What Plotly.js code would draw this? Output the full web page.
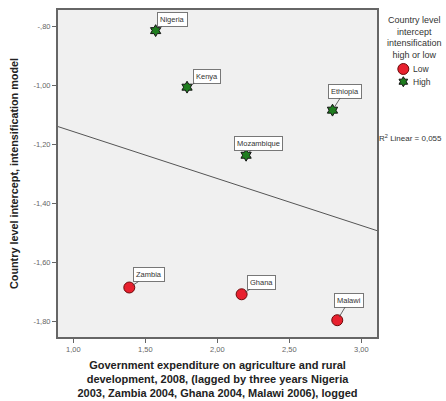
<!DOCTYPE html>
<html>
<head>
<meta charset="utf-8">
<script src="https://cdn.plot.ly/plotly-3.0.1.min.js"></script>
<style>
  html, body { margin: 0; padding: 0; background: #fff; }
  #chart { width: 446px; height: 401px; }
</style>
</head>
<body>
<div id="chart"></div>
<script>
// Country-level data
const countries = ["Nigeria", "Kenya", "Ethiopia", "Mozambique", "Zambia", "Ghana", "Malawi"];
const expenditure = [1.572, 1.790, 2.800, 2.200, 1.389, 2.169, 2.833];
const intercept = [-0.814, -1.006, -1.084, -1.237, -1.686, -1.709, -1.797];
const group = ["High", "High", "High", "High", "Low", "Low", "Low"];

// Label offsets (pixels) for the country call-outs
const labelDx = [17, 20, 12, 12, 20, 20, 12];
const labelDy = [-11, -11, -19, -12, -13, -12, -20];

// Axis ticks
const xTickVals = [1.0, 1.5, 2.0, 2.5, 3.0];
const xTickText = ["1,00", "1,50", "2,00", "2,50", "3,00"];
const yTickVals = [-0.8, -1.0, -1.2, -1.4, -1.6, -1.8];
const yTickText = ["-,80", "-1,00", "-1,20", "-1,40", "-1,60", "-1,80"];
const xRange = [0.894, 3.109];
const yRange = [-1.854, -0.744];
const r2Label = "R<sup>2</sup> Linear = 0,055";
const legendTitle = "Country level<br>intercept<br>intensification<br>high or low";
const legendNames = ["Low", "High"];

// Least-squares fit across the whole x range
function linearFit(xs, ys) {
  const n = xs.length;
  const mx = xs.reduce((a, b) => a + b, 0) / n;
  const my = ys.reduce((a, b) => a + b, 0) / n;
  let sxy = 0, sxx = 0;
  for (let i = 0; i < n; i++) {
    sxy += (xs[i] - mx) * (ys[i] - my);
    sxx += (xs[i] - mx) * (xs[i] - mx);
  }
  const slope = sxy / sxx;
  return { slope, intercept: my - slope * mx };
}
const fit = linearFit(expenditure, intercept);

function subset(g) {
  const xs = [], ys = [], names = [];
  for (let i = 0; i < countries.length; i++) {
    if (group[i] === g) { xs.push(expenditure[i]); ys.push(intercept[i]); names.push(countries[i]); }
  }
  return { xs, ys, names };
}
const low = subset("Low");
const high = subset("High");

const font = "Liberation Sans, Arial, sans-serif";
const lowColor = "#e8202e";
const lowEdge = "#6b0a0a";
const highColor = "#1f7d1f";
const highEdge = "#111111";

const traces = [
  {
    x: xRange,
    y: xRange.map(v => fit.intercept + fit.slope * v),
    mode: "lines",
    line: { color: "#555555", width: 1 },
    showlegend: false,
    hoverinfo: "skip"
  },
  {
    x: low.xs, y: low.ys, text: low.names, name: "Low",
    mode: "markers", type: "scatter", showlegend: false,
    marker: { symbol: "circle", size: 11, color: lowColor, line: { color: lowEdge, width: 1 } }
  },
  {
    x: high.xs, y: high.ys, text: high.names, name: "High",
    mode: "markers", type: "scatter", showlegend: false,
    marker: { symbol: "hexagram", size: 9, color: highColor, line: { color: highEdge, width: 1 } }
  }
];

const annotations = countries.map((c, i) => ({
  x: expenditure[i], y: intercept[i], xref: "x", yref: "y",
  text: c, showarrow: true, arrowhead: 0, arrowwidth: 0.8, arrowcolor: "#444",
  ax: labelDx[i], ay: labelDy[i], standoff: 4,
  font: { family: font, size: 7.5, color: "#333" },
  bgcolor: "#ffffff", bordercolor: "#777777", borderwidth: 1, borderpad: 2
}));

// Regression note
annotations.push({
  xref: "paper", yref: "paper", x: 1.0, y: 0.6095, xanchor: "left", yanchor: "middle",
  text: r2Label, showarrow: false,
  font: { family: font, size: 8, color: "#333" }
});

// Key: title and names
annotations.push({
  xref: "paper", yref: "paper", x: 1.119, y: 0.9168, xanchor: "center", yanchor: "middle",
  text: legendTitle, showarrow: false, align: "center",
  font: { family: font, size: 9, color: "#333" }
});
const keyX = 1.0825;
const keyY = [0.8196, 0.7807];
legendNames.forEach((name, i) => {
  annotations.push({
    xref: "paper", yref: "paper", x: 1.1066, y: keyY[i], xanchor: "left", yanchor: "middle",
    text: name, showarrow: false,
    font: { family: font, size: 8.5, color: "#333" }
  });
});

// Key symbols (pixel-sized so they stay the same as the plotted markers)
function starPath(points, rOut, rIn) {
  let d = "";
  for (let k = 0; k < points * 2; k++) {
    const r = k % 2 === 0 ? rOut : rIn;
    const a = Math.PI / 2 + k * Math.PI / points;
    d += (k === 0 ? "M" : "L") + (r * Math.cos(a)).toFixed(2) + "," + (r * Math.sin(a)).toFixed(2);
  }
  return d + "Z";
}
const shapes = [
  {
    type: "circle", xref: "paper", yref: "paper",
    xsizemode: "pixel", ysizemode: "pixel", xanchor: keyX, yanchor: keyY[0],
    x0: -5.5, x1: 5.5, y0: -5.5, y1: 5.5,
    fillcolor: lowColor, line: { color: lowEdge, width: 1 }
  },
  {
    type: "path", xref: "paper", yref: "paper",
    xsizemode: "pixel", ysizemode: "pixel", xanchor: keyX, yanchor: keyY[1],
    path: starPath(6, 5, 2.9),
    fillcolor: highColor, line: { color: highEdge, width: 1 }
  }
];

const layout = {
  width: 446, height: 401,
  margin: { l: 58, r: 69, t: 10, b: 64 },
  paper_bgcolor: "#ffffff",
  plot_bgcolor: "#f0f0f0",
  font: { family: font, color: "#333" },
  showlegend: false,
  xaxis: {
    range: xRange, tickvals: xTickVals, ticktext: xTickText,
    showgrid: false, zeroline: false,
    showline: true, mirror: true, linecolor: "#666", linewidth: 2,
    ticks: "outside", ticklen: 4, tickcolor: "#666",
    tickfont: { family: font, size: 7.5, color: "#666" },
    title: {
      text: "Government expenditure on agriculture and rural<br>development, 2008, (lagged by three years Nigeria<br>2003, Zambia 2004, Ghana 2004, Malawi 2006), logged",
      font: { family: font, size: 11, color: "#222", weight: "bold" },
      standoff: 8
    }
  },
  yaxis: {
    range: yRange, tickvals: yTickVals, ticktext: yTickText,
    showgrid: false, zeroline: false,
    showline: true, mirror: true, linecolor: "#666", linewidth: 2,
    ticks: "outside", ticklen: 4, tickcolor: "#666",
    tickfont: { family: font, size: 7.5, color: "#666" },
    title: {
      text: "Country level intercept, intensification model",
      font: { family: font, size: 10.8, color: "#222", weight: "bold" },
      standoff: 13
    }
  },
  shapes: shapes,
  annotations: annotations
};

Plotly.newPlot("chart", traces, layout, { displayModeBar: false, staticPlot: true });
</script>
</body>
</html>
